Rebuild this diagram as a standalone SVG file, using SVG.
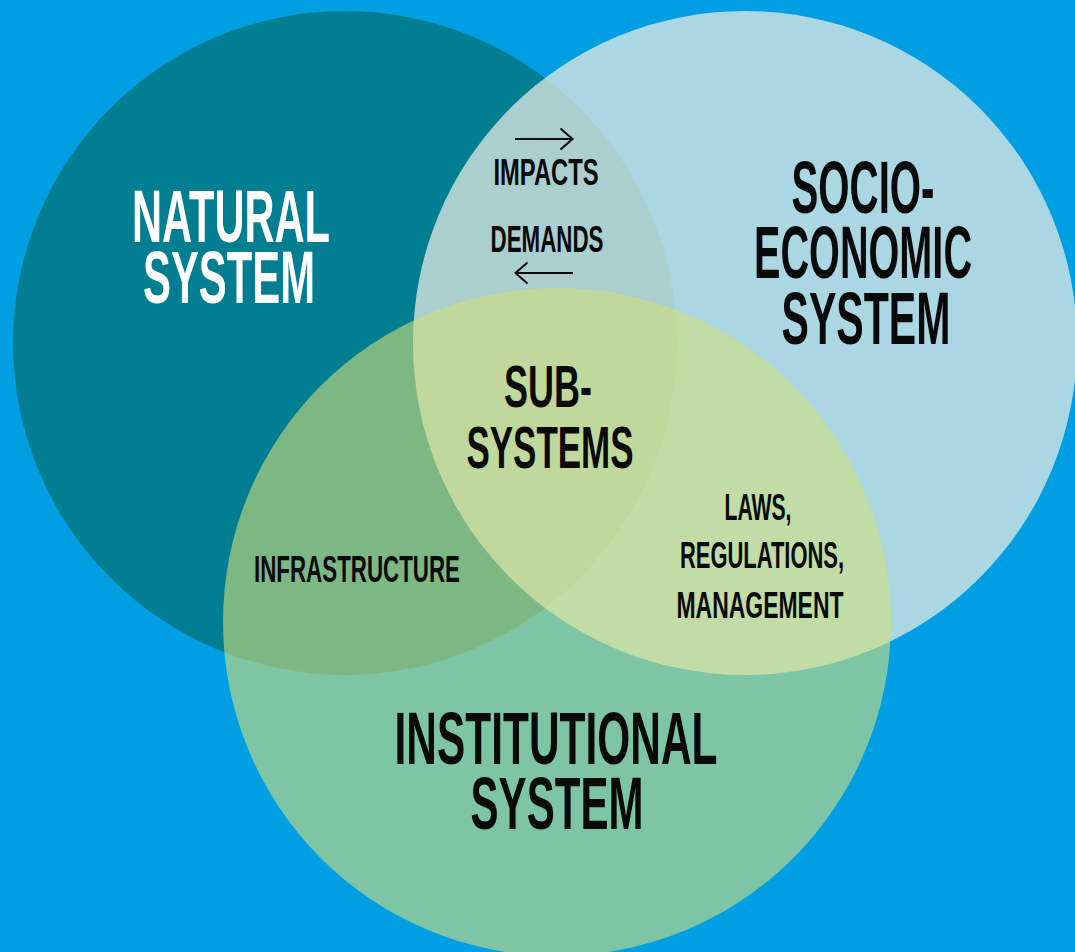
<svg xmlns="http://www.w3.org/2000/svg" width="1075" height="952" viewBox="0 0 1075 952">
  <defs>
    <style>
      .lbl { font-family: "Liberation Sans", Arial, sans-serif; font-weight: bold; text-anchor: middle; fill: #0a0a0a; }
      .big { font-size: 75px; }
      .mid { font-size: 59px; }
      .small { font-size: 37px; }
      .light { fill: #ffffff; }
      .arrow { stroke: #0a0a0a; stroke-width: 2; fill: none; }
    </style>
    <marker id="head" viewBox="0 0 16 24" refX="14.5" refY="12" markerWidth="16" markerHeight="24" markerUnits="userSpaceOnUse" orient="auto">
      <path d="M2,1.5 L14,12 L2,22.5" fill="none" stroke="#0a0a0a" stroke-width="2"/>
    </marker>
  </defs>

  <!-- backdrop -->
  <rect width="1075" height="952" fill="#009fe3"/>

  <!-- natural system -->
  <g id="node-natural">
    <circle cx="345" cy="343" r="332" fill="#017e92"/>
    <text class="lbl big light" x="231" y="242" font-size="80" textLength="198" lengthAdjust="spacingAndGlyphs">NATURAL</text>
    <text class="lbl big light" x="229" y="303" font-size="74" textLength="172" lengthAdjust="spacingAndGlyphs">SYSTEM</text>
  </g>

  <!-- socio-economic system -->
  <g id="node-socio">
    <circle cx="745" cy="343" r="332" fill="#e7ebe3" fill-opacity="0.74"/>
    <text class="lbl big" x="863" y="213" font-size="77" textLength="143" lengthAdjust="spacingAndGlyphs">SOCIO-</text>
    <text class="lbl big" x="863" y="278" textLength="218" lengthAdjust="spacingAndGlyphs">ECONOMIC</text>
    <text class="lbl big" x="866" y="344" textLength="169" lengthAdjust="spacingAndGlyphs">SYSTEM</text>
  </g>

  <!-- institutional system -->
  <g id="node-institutional">
    <circle cx="557" cy="622" r="334" fill="#d0e07c" fill-opacity="0.6"/>
    <text class="lbl big" x="556" y="764" font-size="74" textLength="323" lengthAdjust="spacingAndGlyphs">INSTITUTIONAL</text>
    <text class="lbl big" x="557" y="829" font-size="73" textLength="173" lengthAdjust="spacingAndGlyphs">SYSTEM</text>
  </g>

  <!-- overlap labels -->
  <g id="node-subsystems">
    <text class="lbl mid" x="548" y="407" textLength="88" lengthAdjust="spacingAndGlyphs">SUB-</text>
    <text class="lbl mid" x="550" y="468" font-size="60" textLength="167" lengthAdjust="spacingAndGlyphs">SYSTEMS</text>
  </g>

  <g id="node-exchange">
    <text class="lbl small" x="546" y="185" font-size="38" textLength="105" lengthAdjust="spacingAndGlyphs">IMPACTS</text>
    <text class="lbl small" x="547" y="252" font-size="38" textLength="113" lengthAdjust="spacingAndGlyphs">DEMANDS</text>
  </g>

  <g id="node-laws">
    <text class="lbl small" x="758" y="520" font-size="36" textLength="67" lengthAdjust="spacingAndGlyphs">LAWS,</text>
    <text class="lbl small" x="762" y="568" font-size="36" textLength="164" lengthAdjust="spacingAndGlyphs">REGULATIONS,</text>
    <text class="lbl small" x="760" y="618" font-size="36" textLength="167" lengthAdjust="spacingAndGlyphs">MANAGEMENT</text>
  </g>

  <g id="node-infrastructure">
    <text class="lbl small" x="357" y="582" font-size="39" textLength="206" lengthAdjust="spacingAndGlyphs">INFRASTRUCTURE</text>
  </g>

  <!-- direction arrows between natural and socio-economic -->
  <g id="connectors">
    <line class="arrow" x1="515" y1="139" x2="573" y2="139" marker-end="url(#head)"/>
    <line class="arrow" x1="573" y1="273" x2="515" y2="273" marker-end="url(#head)"/>
  </g>
</svg>
